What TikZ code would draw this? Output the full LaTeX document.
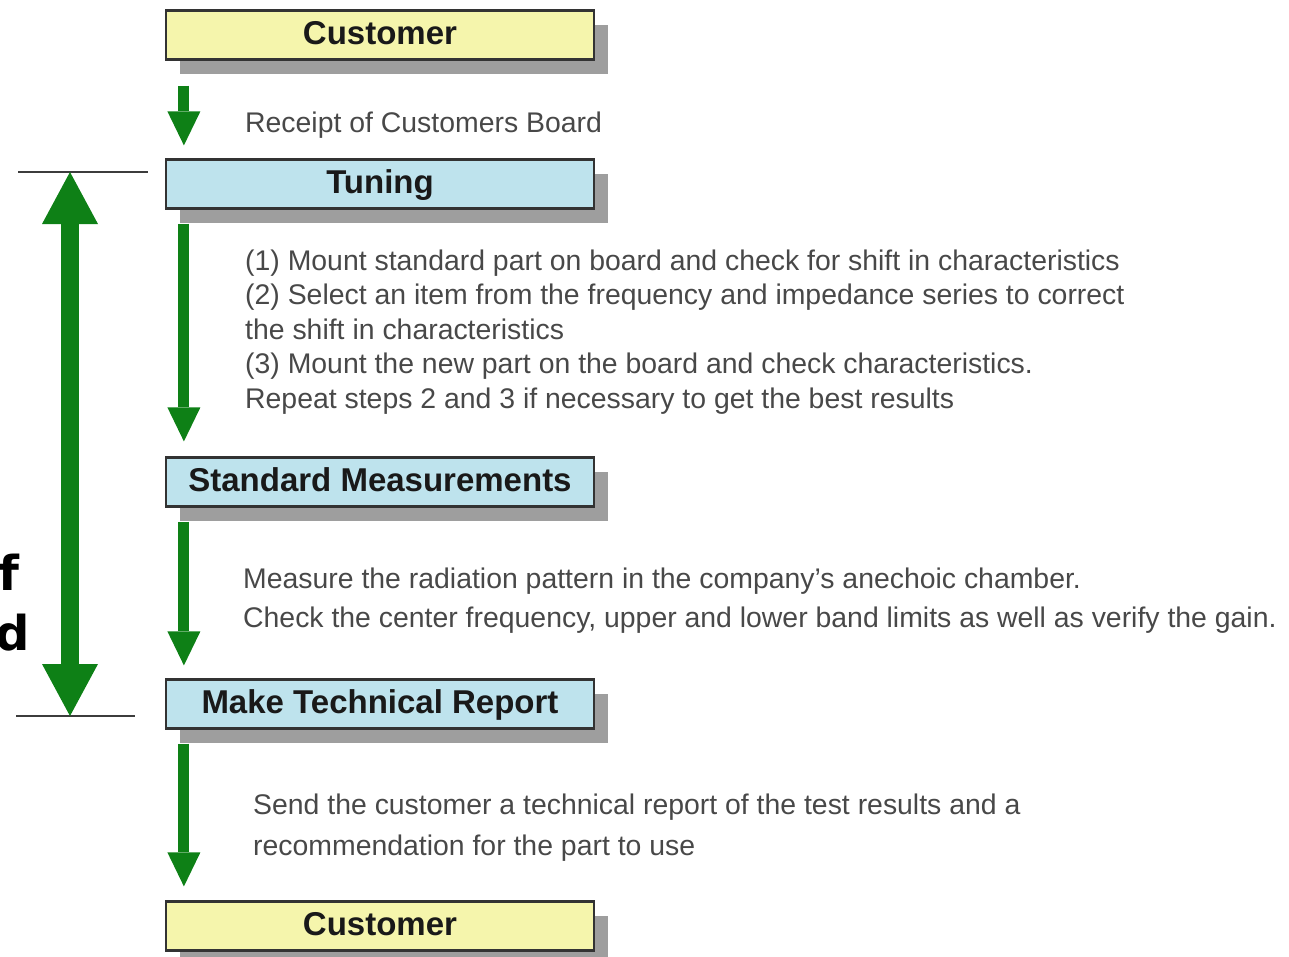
\documentclass[tikz,border=0pt]{standalone}
\usepackage{fontspec}
\setmainfont{Liberation Sans}
\newfontfamily\verdfont{DejaVu Sans}
\usetikzlibrary{arrows.meta,shadows}
\definecolor{boxyellow}{RGB}{245,245,172}
\definecolor{boxblue}{RGB}{190,227,237}
\definecolor{flowgreen}{RGB}{14,128,22}
\definecolor{txtgray}{RGB}{72,72,72}
\definecolor{shadowgray}{RGB}{158,158,158}
\definecolor{linegray}{RGB}{60,60,60}
\begin{document}
\begin{tikzpicture}[x=1pt,y=-1pt,
  stepbox/.style={draw=black!80, line width=2.2pt, minimum width=428pt, minimum height=49pt,
    inner sep=0pt, font=\fontsize{33}{36}\selectfont\bfseries, text=black!90,
    text height=23pt, text depth=5pt,
    drop shadow={shadow xshift=14pt, shadow yshift=-14pt, fill=shadowgray, opacity=1}},
  yellowbox/.style={stepbox, fill=boxyellow},
  bluebox/.style={stepbox, fill=boxblue},
  desc/.style={anchor=base west, inner sep=0pt, font=\fontsize{28.4}{34}\selectfont, text=txtgray},
  flow/.style={draw=flowgreen, line width=11pt, -{Triangle[width=33pt,length=34pt,line width=0pt]}},
  span/.style={draw=flowgreen, line width=18pt,
    {Triangle[width=56pt,length=52pt,line width=0pt]}-{Triangle[width=56pt,length=52pt,line width=0pt]}},
  markline/.style={draw=linegray, line width=2pt},
  cut/.style={anchor=base east, inner sep=0pt, font=\verdfont\bfseries\fontsize{48}{52}\selectfont, text=black}
]
\useasboundingbox (0,0) rectangle (1289,956);

% boxes
\node[yellowbox] (cust1) at (380,35) {Customer};
\node[bluebox] (tune) at (380,184) {Tuning};
\node[bluebox] (std) at (380,482) {Standard Measurements};
\node[bluebox] (rep) at (380,704) {Make Technical Report};
\node[yellowbox] (cust2) at (380,926) {Customer};

% flow arrows
\draw[flow] ([xshift=19pt,yshift=-25pt]cust1.south west) -- ([xshift=19pt,yshift=13pt]tune.north west);
\draw[flow] ([xshift=19pt,yshift=-14pt]tune.south west) -- ([xshift=19pt,yshift=15pt]std.north west);
\draw[flow] ([xshift=19pt,yshift=-14pt]std.south west) -- ([xshift=19pt,yshift=13pt]rep.north west);
\draw[flow] ([xshift=19pt,yshift=-14pt]rep.south west) -- ([xshift=19pt,yshift=14pt]cust2.north west);

% descriptions
\node[desc] (d0) at (245,132) {Receipt of Customers Board};
\node[desc] (d1) at (245,270) {(1) Mount standard part on board and check for shift in characteristics};
\node[desc] (d2) at (245,304.5) {(2) Select an item from the frequency and impedance series to correct};
\node[desc] (d3) at (245,339) {the shift in characteristics};
\node[desc] (d4) at (245,373.5) {(3) Mount the new part on the board and check characteristics.};
\node[desc] (d5) at (245,408) {Repeat steps 2 and 3 if necessary to get the best results};
\node[desc] (d6) at (243,588) {Measure the radiation pattern in the company's anechoic chamber.};
\node[desc] (d7) at (243,627) {Check the center frequency, upper and lower band limits as well as verify the gain.};
\node[desc] (d8) at (253,814) {Send the customer a technical report of the test results and a};
\node[desc] (d9) at (253,855) {recommendation for the part to use};

% span marker on the left
\coordinate (tl) at (18,172);
\coordinate (tr) at (148,172);
\coordinate (bl) at (16,716);
\coordinate (br) at (135,716);
\coordinate (ttip) at (70,172);
\coordinate (btip) at (70,716);
\draw[markline] (tl) -- (tr);
\draw[markline] (bl) -- (br);
\draw[span] (ttip) -- (btip);

% clipped words at the left edge
\node[cut] (cf) at (20,590) {f};
\node[cut] (cd) at (30,650) {d};
\end{tikzpicture}
\end{document}
